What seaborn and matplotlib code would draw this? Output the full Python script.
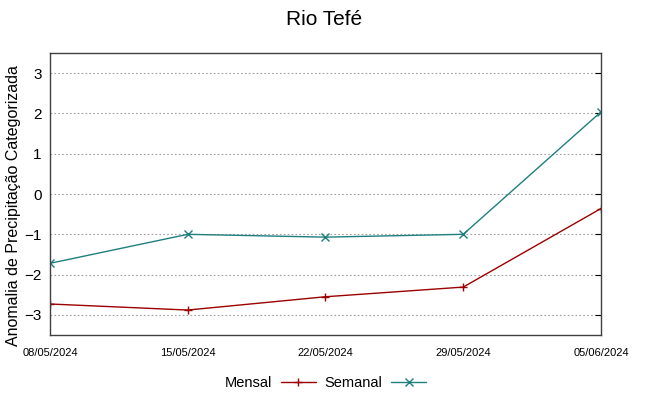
import matplotlib
matplotlib.use("Agg")
import matplotlib.pyplot as plt
import pandas as pd
import seaborn as sns

dates = ["08/05/2024", "15/05/2024", "22/05/2024", "29/05/2024", "05/06/2024"]
mensal = [-2.73, -2.88, -2.55, -2.31, -0.36]
semanal = [-1.72, -1.00, -1.07, -1.00, 2.04]

sns.set_style("white")
plt.rcParams["font.family"] = ["Liberation Sans", "DejaVu Sans"]
plt.rcParams["text.color"] = "black"
plt.rcParams["axes.labelcolor"] = "black"
plt.rcParams["xtick.color"] = "black"
plt.rcParams["ytick.color"] = "black"

x = pd.to_datetime(dates, format="%d/%m/%Y")
df = pd.DataFrame({"data": list(x) * 2,
                   "valor": mensal + semanal,
                   "serie": ["Mensal"] * 5 + ["Semanal"] * 5})

fig = plt.figure(figsize=(6.49, 3.96), dpi=100)
ax = fig.add_axes([0.077, 0.154, 0.849, 0.712])

palette = {"Mensal": "#9b0000", "Semanal": "#1f7f7f"}
sns.lineplot(data=df, x="data", y="valor", hue="serie", style="serie",
             markers={"Mensal": "+", "Semanal": "x"}, dashes=False,
             palette=palette, linewidth=1.0, markersize=5.5, ax=ax)
for ln in ax.lines:
    ln.set_markeredgecolor(ln.get_color())
    ln.set_markeredgewidth(1.0)

ax.set_xlim(x[0], x[-1])
ax.set_ylim(-3.5, 3.5)
ax.set_yticks([-3, -2, -1, 0, 1, 2, 3])
ax.set_xticks(x)
ax.set_xticklabels(dates, fontsize=8)
ax.tick_params(axis="x", direction="in", length=4, pad=9, top=False)
ax.tick_params(axis="y", direction="in", length=4, right=True, labelsize=11, pad=6)
ax.yaxis.grid(True, linestyle=(0, (1.5, 2)), color="#a0a0a0", linewidth=0.8)
for s in ax.spines.values():
    s.set_color("#404040")
    s.set_linewidth(1.0)

ax.set_xlabel("")
ax.set_ylabel("Anomalia de Precipitação Categorizada", fontsize=11.5)
ax.yaxis.set_label_coords(-0.052, 0.46)
fig.suptitle("Rio Tefé", fontsize=15, y=0.975)

handles, labels = ax.get_legend_handles_labels()
for h in handles:
    h.set_markeredgecolor(h.get_color())
ax.legend(handles, labels, loc="upper center", bbox_to_anchor=(0.5, -0.10),
          ncol=2, frameon=False, markerfirst=False, fontsize=10.5,
          handlelength=2.4, columnspacing=0.6, handletextpad=0.6)

fig.savefig("out.png", dpi=100)
